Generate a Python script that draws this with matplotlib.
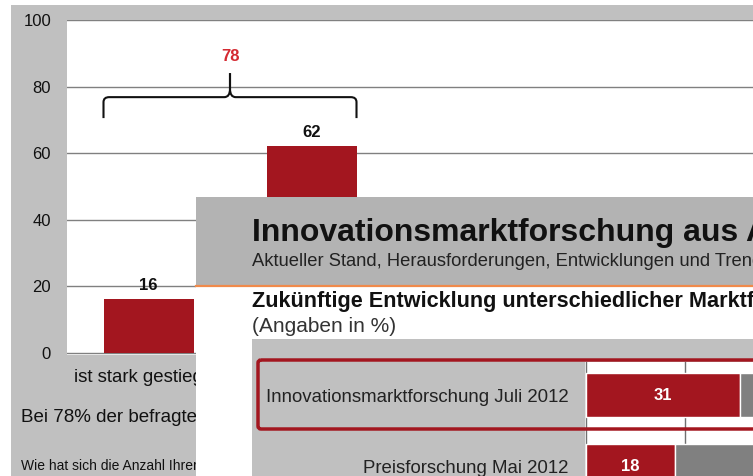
import matplotlib
matplotlib.use("Agg")
import matplotlib.pyplot as plt
from matplotlib.patches import Rectangle, FancyBboxPatch, PathPatch
from matplotlib.path import Path

plt.rcParams['font.family'] = ['Liberation Sans', 'DejaVu Sans']

# ---------------- data ----------------
# background chart
categories = ["ist stark gestiegen", "ist gestiegen"]
values = [16, 62]
total_value = 78
y_ticks = [0, 20, 40, 60, 80, 100]
note_text = "Bei 78% der befragten"
question_text = "Wie hat sich die Anzahl Ihrer"

# overlay chart
overlay_title = "Innovationsmarktforschung aus Anwendersicht"
overlay_sub = "Aktueller Stand, Herausforderungen, Entwicklungen und Trends"
overlay_head = "Zukünftige Entwicklung unterschiedlicher Marktforschungsbereiche"
overlay_unit = "(Angaben in %)"
inner_labels = ["Innovationsmarktforschung Juli 2012", "Preisforschung Mai 2012"]
inner_red = [31, 18]
inner_grey = [48, 55]
inner_ticks = [0, 20, 40, 60, 80, 100]

# ---------------- style ----------------
W, H = 753, 476
RED = "#a3161f"
GRID = "#808080"

fig = plt.figure(figsize=(W / 100, H / 100), dpi=100)
fig.patch.set_facecolor("white")


def fbox(x0, y0, x1, y1):
    return [x0 / W, 1 - y1 / H, (x1 - x0) / W, (y1 - y0) / H]


def px_axes(z):
    a = fig.add_axes([0, 0, 1, 1], zorder=z)
    a.set_xlim(0, W)
    a.set_ylim(H, 0)
    a.axis('off')
    a.patch.set_alpha(0)
    return a


# background grey panel
bg = px_axes(-2)
bg.add_patch(Rectangle((11, 5), W - 11, H - 5, color="#c0c0c0", lw=0))
bg.text(21, 418, note_text, fontsize=13.5, va='center', color="#111")
bg.text(21, 466, question_text, fontsize=10, va='center', color="#111")

# main chart
ax = fig.add_axes(fbox(67, 20, W, 355), zorder=0)
ax.set_facecolor("white")
x = list(range(len(categories)))
bw = 90 / 163
ax.bar(x, values, width=bw, color=RED, zorder=3)
ax.set_yticks(y_ticks)
ax.set_xticks(x, categories)
ax.set_xlim(-0.5, (W - 67) / 163 - 0.5)
ax.set_ylim(-0.75, 100)
ax.yaxis.grid(True, color=GRID, lw=1)
ax.set_axisbelow(True)
for s in ax.spines.values():
    s.set_visible(False)
ax.tick_params(axis='y', length=0, labelsize=12, pad=11.5, labelcolor="#111")
ax.tick_params(axis='x', length=0, labelsize=13.4, pad=10, labelcolor="#111")
for i, v in zip(x, values):
    ax.annotate(str(v), (i, v), xytext=(0, 4.5), textcoords='offset points',
                ha='center', va='bottom', fontsize=12, fontweight='bold', color="#111", zorder=5)

# brace over both bars
xl, xr = x[0] - bw / 2, x[1] + bw / 2
xc = (xl + xr) / 2
yb, yh, yp = total_value - 7.5, total_value - 1.2, total_value + 6
dx = 0.035
for a, sgn in ((xl, 1), (xr, -1)):
    verts = [(a, yb), (a, yh - 1.5), (a, yh), (a + sgn * dx, yh),
             (xc - sgn * dx, yh), (xc, yh), (xc, yh + 2.5), (xc, yp)]
    codes = [Path.MOVETO, Path.LINETO, Path.CURVE3, Path.CURVE3,
             Path.LINETO, Path.CURVE3, Path.CURVE3, Path.LINETO]
    ax.add_patch(PathPatch(Path(verts, codes), fill=False, lw=1.5, color="#111", zorder=4))
ax.text(xc, total_value + 11, str(total_value), ha='center', va='center',
        fontsize=12, fontweight='bold', color="#d42a32")

# overlay screenshot
ov = px_axes(2)
ov.add_patch(Rectangle((196, 197), W - 196, 89, color="#b3b3b3", lw=0))
ov.add_patch(Rectangle((196, 286), W - 196, H - 286, color="white", lw=0))
ov.plot([196, W], [286, 286], color="#f08a4b", lw=1.6)
ov.text(252, 241, overlay_title, fontsize=23, fontweight='bold', va='baseline', color="#111")
ov.text(252, 261, overlay_sub, fontsize=13.2, va='center', color="#222")
ov.text(252, 301, overlay_head, fontsize=15.6, fontweight='bold', va='center', color="#111")
ov.text(252, 326, overlay_unit, fontsize=15, va='center', color="#333")
ov.add_patch(Rectangle((252, 339), W - 252, H - 339, color="#c0c0c0", lw=0))

# inner bar chart
ia = fig.add_axes(fbox(585, 362, W, H), zorder=3)
ia.set_facecolor("white")
ypos = list(range(len(inner_labels)))
ia.barh(ypos, inner_red, height=0.62, color=RED, edgecolor='white', lw=1, zorder=3)
ia.barh(ypos, inner_grey, left=inner_red, height=0.62, color="#808080",
        edgecolor='white', lw=1, zorder=3)
ia.set_xticks(inner_ticks)
ia.set_yticks(ypos, inner_labels)
ia.set_xlim(-0.2, 33.7)
ia.set_ylim(1.14, -0.465)
ia.xaxis.grid(True, color="#707070", lw=1)
ia.set_axisbelow(True)
ia.tick_params(axis='x', length=0, labelbottom=False)
ia.tick_params(axis='y', length=0, labelsize=13.4, pad=12, labelcolor="#222")
for s in ia.spines.values():
    s.set_visible(False)
for i, v in zip(ypos, inner_red):
    ia.text(v / 2, i, str(v), ha='center', va='center', color='white',
            fontsize=12, fontweight='bold', zorder=5)

# red highlight frame
top = px_axes(4)
top.add_patch(FancyBboxPatch((258, 360), 600, 69, boxstyle="round,pad=0,rounding_size=3",
                             fc='none', ec=RED, lw=2.5, clip_on=False))

fig.savefig("out.png", dpi=100)
